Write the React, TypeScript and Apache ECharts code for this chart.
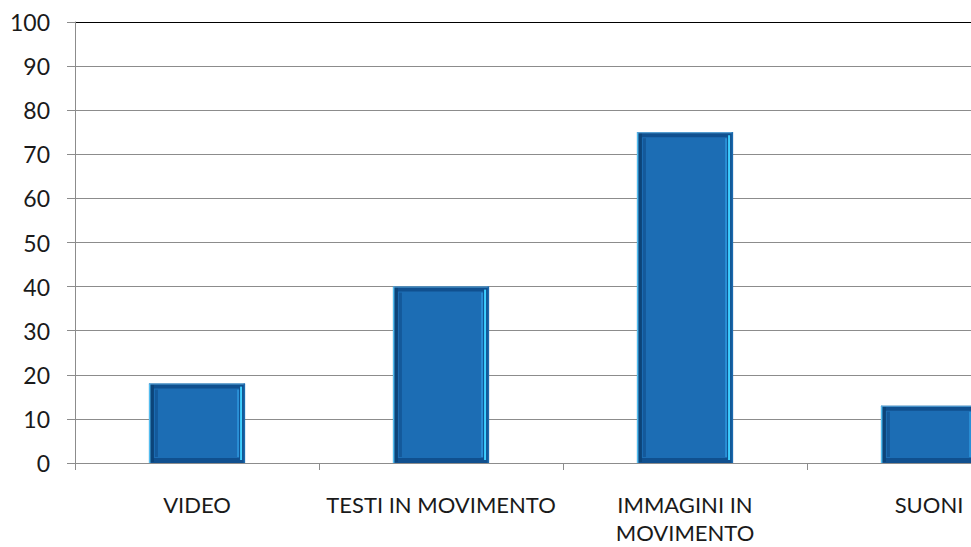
import React, { useEffect, useRef } from "react";
import * as echarts from "echarts";

const categories = ["VIDEO", "TESTI IN MOVIMENTO", "IMMAGINI IN MOVIMENTO", "SUONI"];
const values = [18, 40, 75, 13];
const yTicks = [0, 10, 20, 30, 40, 50, 60, 70, 80, 90, 100];

export default function App() {
  const ref = useRef<HTMLDivElement>(null);
  useEffect(() => {
    if (!ref.current) return;
    const chart = echarts.init(ref.current, null, { renderer: "svg" });
    const gridColors = yTicks.slice(0, -1).map(() => "#8c8c8c").concat(["#000000"]);
    chart.setOption({
      animation: false,
      backgroundColor: "#ffffff",
      grid: { left: 75, top: 22, right: -80, bottom: 84, containLabel: false, outerBoundsMode: "none" },
      xAxis: {
        type: "category",
        data: categories,
        axisLine: { lineStyle: { color: "#8c8c8c", width: 1 } },
        axisTick: { show: true, length: 7, lineStyle: { color: "#8c8c8c" } },
        axisLabel: {
          margin: 27,
          fontFamily: "Lato",
          fontSize: 22,
          color: "#1a1a1a",
          lineHeight: 28,
          interval: 0,
          formatter: (v: string) => (v === "IMMAGINI IN MOVIMENTO" ? "IMMAGINI IN\nMOVIMENTO" : v),
        },
      },
      yAxis: {
        type: "value",
        min: 0,
        max: 100,
        interval: 10,
        axisLine: { show: true, lineStyle: { color: "#8c8c8c" } },
        axisTick: { show: true, length: 8, lineStyle: { color: "#8c8c8c" } },
        axisLabel: { margin: 25, fontFamily: "Lato", fontSize: 23, color: "#1a1a1a" },
        splitLine: { show: true, lineStyle: { color: gridColors, width: 1 } },
      },
      series: [
        {
          type: "custom",
          data: values.map((v, i) => [i, v]),
          encode: { x: 0, y: 1 },
          renderItem: (params: any, api: any) => {
            const top = api.coord([api.value(0), api.value(1)]);
            const base = api.coord([api.value(0), 0]);
            const bw = api.size([1, 0])[0] * 0.394;
            const x0 = top[0] - bw / 2;
            const y0 = top[1];
            const h = base[1] - top[1];
            const w = bw;
            return {
              type: "group",
              children: [
                { type: "rect", shape: { x: x0, y: y0, width: w, height: h }, style: { fill: "#10508f" } },
                { type: "rect", shape: { x: x0 + 1, y: y0 + 1, width: 4, height: h - 2 }, style: { fill: "#0c4479" } },
                { type: "rect", shape: { x: x0 + 5, y: y0 + 5, width: w - 11, height: h - 10 }, style: { fill: "#1c6db4" } },
                { type: "rect", shape: { x: x0 + 6, y: y0 + 6, width: 3, height: h - 12 }, style: { fill: "#14599a" } },
                { type: "rect", shape: { x: x0 + w - 5, y: y0 + 3, width: 2, height: h - 6 }, style: { fill: "#3fd0ff" } },
                { type: "rect", shape: { x: x0 + w - 8, y: y0 + 6, width: 2, height: h - 12 }, style: { fill: "#2a8fd6" } },
                { type: "rect", shape: { x: x0, y: y0, width: 1.5, height: h }, style: { fill: "#52bdf0" } },
                { type: "rect", shape: { x: x0, y: y0, width: w, height: 1 }, style: { fill: "#5aa8dc" } },
                { type: "rect", shape: { x: x0 + w - 1.5, y: y0, width: 1.5, height: h }, style: { fill: "#1a6aae" } },
              ],
            };
          },
        },
      ],
    });
    return () => chart.dispose();
  }, []);
  return (
    <div
      ref={ref}
      style={{ position: "fixed", left: 0, top: 0, width: 971, height: 547, background: "#fff" }}
    />
  );
}
